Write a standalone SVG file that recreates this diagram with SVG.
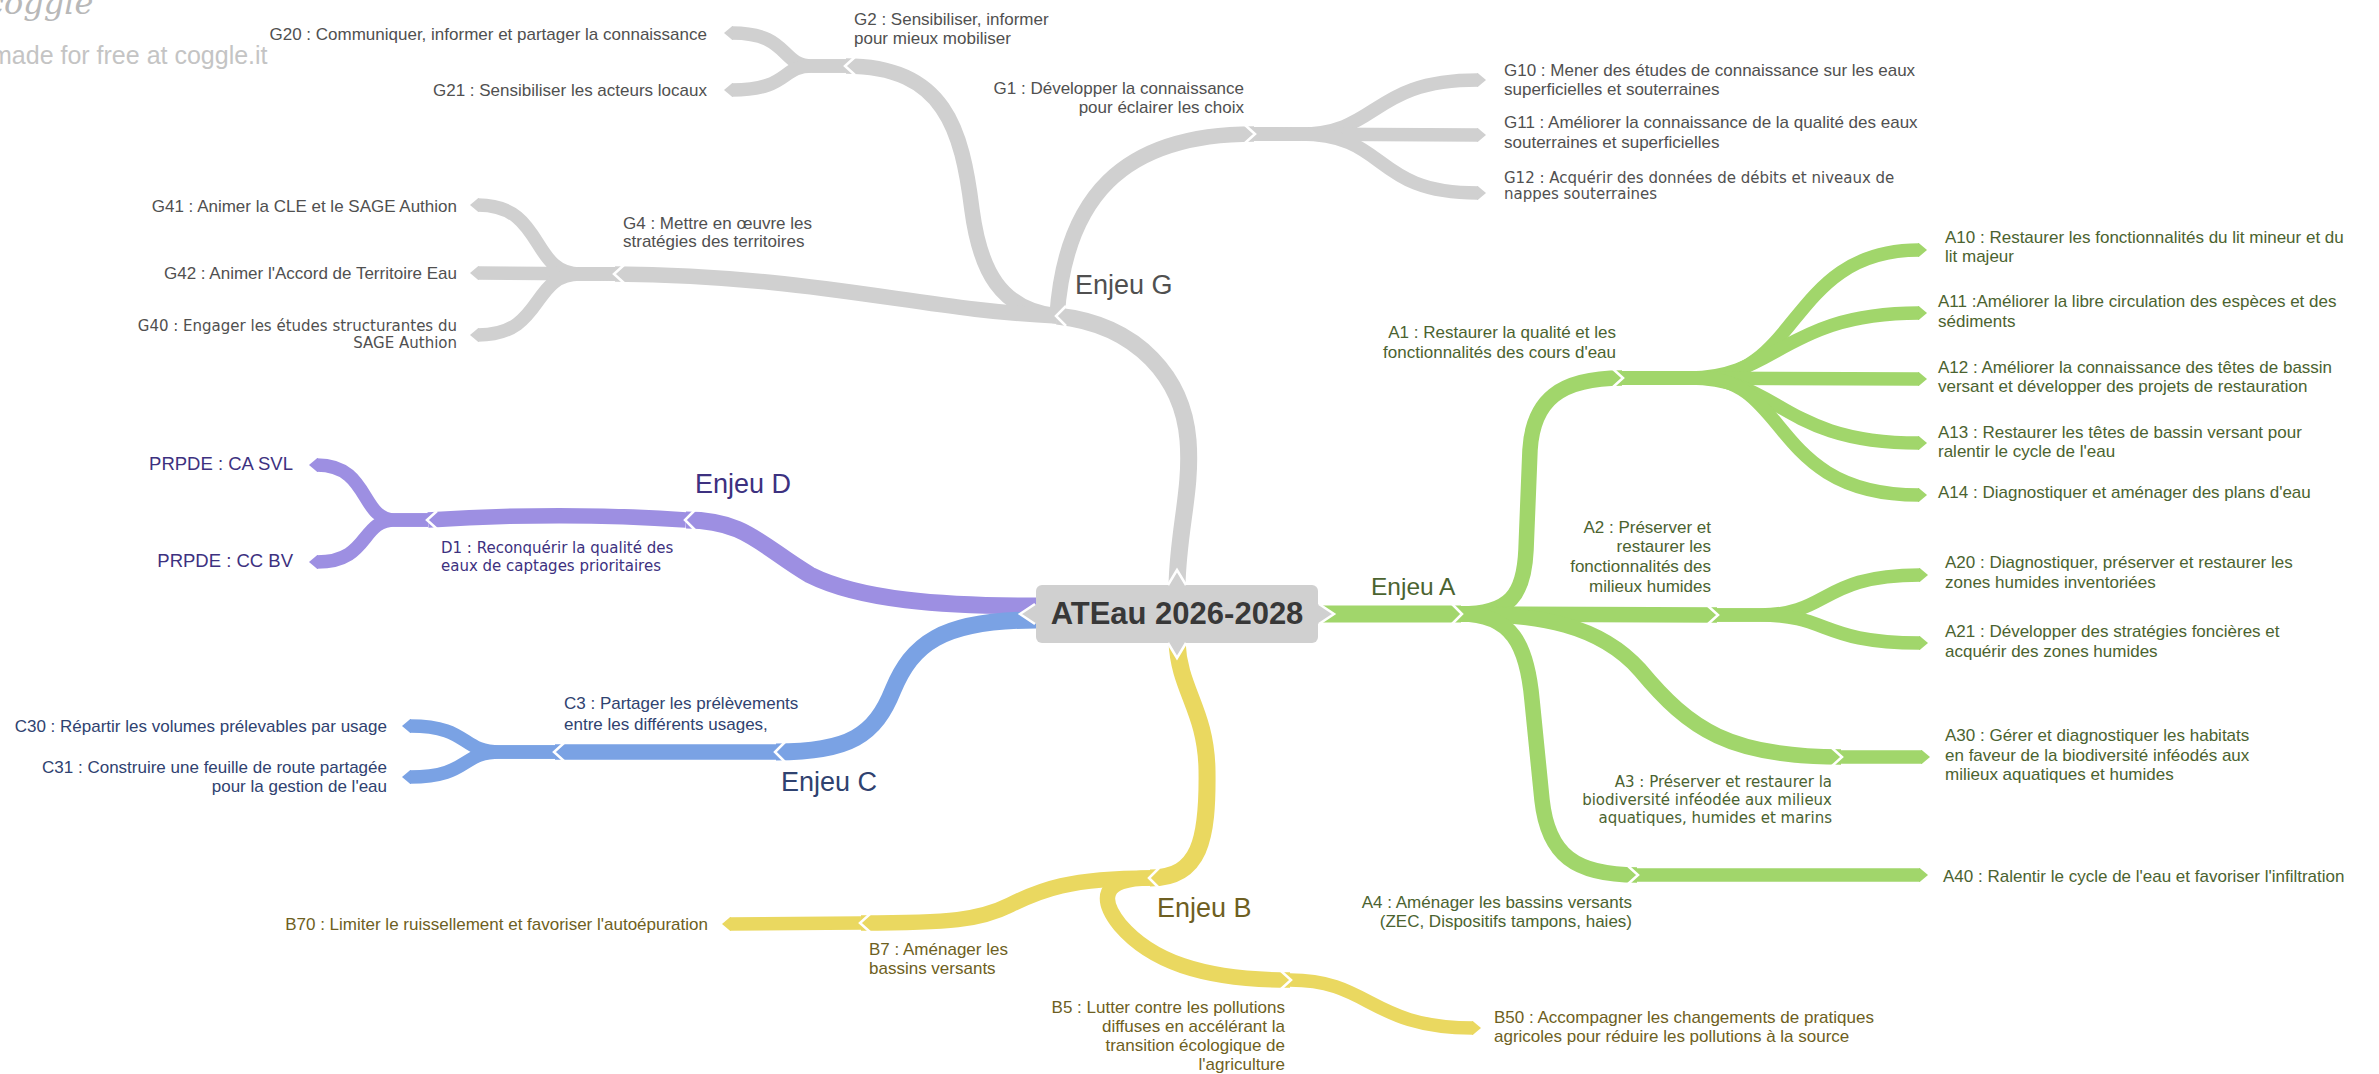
<svg xmlns="http://www.w3.org/2000/svg" width="2379" height="1074" viewBox="0 0 2379 1074">
<style>
.b{fill:none;stroke-linecap:butt;stroke-linejoin:round}
.l1{stroke-width:17}.l2{stroke-width:15.5}.l3{stroke-width:13.5}
.sg{stroke:#d0d0d0}.sa{stroke:#a1d66b}.sb{stroke:#ead860}.sc{stroke:#7aa2e4}.sd{stroke:#9d8fe2}
.chev{fill:none;stroke:#fff;stroke-width:2.5;stroke-linejoin:miter}
.t{font-family:"Liberation Sans",Arial,sans-serif;font-size:17px}
.s{font-family:"DejaVu Sans",sans-serif;font-size:15px}
.e{font-family:"Liberation Sans",Arial,sans-serif;font-size:27px}
.end{text-anchor:end}
.cg{fill:#505050}.ca{fill:#4b6330}.cb{fill:#6e5f22}.cc{fill:#2f4270}.cd{fill:#3d3180}
</style>
<defs>
<marker id="tg" markerUnits="userSpaceOnUse" markerWidth="20" markerHeight="20" orient="auto" overflow="visible"><path d="M-1,-6.75 L0,-6.75 L8,0 L0,6.75 L-1,6.75 Z" fill="#d0d0d0"/></marker>
<marker id="ta" markerUnits="userSpaceOnUse" markerWidth="20" markerHeight="20" orient="auto" overflow="visible"><path d="M-1,-6.75 L0,-6.75 L8,0 L0,6.75 L-1,6.75 Z" fill="#a1d66b"/></marker>
<marker id="tb" markerUnits="userSpaceOnUse" markerWidth="20" markerHeight="20" orient="auto" overflow="visible"><path d="M-1,-6.75 L0,-6.75 L8,0 L0,6.75 L-1,6.75 Z" fill="#ead860"/></marker>
<marker id="tc" markerUnits="userSpaceOnUse" markerWidth="20" markerHeight="20" orient="auto" overflow="visible"><path d="M-1,-6.75 L0,-6.75 L8,0 L0,6.75 L-1,6.75 Z" fill="#7aa2e4"/></marker>
<marker id="td" markerUnits="userSpaceOnUse" markerWidth="20" markerHeight="20" orient="auto" overflow="visible"><path d="M-1,-6.75 L0,-6.75 L8,0 L0,6.75 L-1,6.75 Z" fill="#9d8fe2"/></marker>
</defs>
<rect width="2379" height="1074" fill="#fff"/>
<g id="watermark">
<text x="-14" y="14" font-family="'DejaVu Serif',serif" font-style="italic" font-size="32" fill="#b8b8b8">coggle</text>
<text x="-9" y="64" font-family="'Liberation Sans',Arial,sans-serif" font-size="25" fill="#c4c4c4">made for free at coggle.it</text>
</g>
<g id="connectors">
<!-- Enjeu G (gray) -->
<path class="b l1 sg" d="M1177,586 C1178,530 1192,490 1188,440 C1183,380 1140,325 1057,316"/>
<path class="b l2 sg" d="M1057,316 C1065,200 1120,134 1254,134"/>
<path class="b l2 sg" d="M1057,316 C1000,310 980,270 972,210 C962,130 945,66 846,66"/>
<path class="b l2 sg" d="M1057,316 C920,310 820,276 615,274"/>
<path class="b l3 sg" marker-end="url(#tg)" d="M1254,134 L1300,134 C1380,134 1370,80 1478,80"/>
<path class="b l3 sg" marker-end="url(#tg)" d="M1254,134 L1478,135"/>
<path class="b l3 sg" marker-end="url(#tg)" d="M1254,134 L1300,134 C1390,134 1370,193 1478,193"/>
<path class="b l3 sg" marker-end="url(#tg)" d="M846,66 L812,66 C780,66 790,33 732,33"/>
<path class="b l3 sg" marker-end="url(#tg)" d="M846,66 L812,66 C780,66 790,90 732,90"/>
<path class="b l3 sg" marker-end="url(#tg)" d="M615,274 L580,274 C530,274 545,205 478,205"/>
<path class="b l3 sg" marker-end="url(#tg)" d="M615,274 L478,273"/>
<path class="b l3 sg" marker-end="url(#tg)" d="M615,274 L580,274 C530,274 545,335 478,335"/>
<!-- Enjeu D (purple) -->
<path class="b l1 sd" d="M1036,606 C940,606 860,600 810,575 C760,545 745,520 686,520"/>
<path class="b l2 sd" d="M686,520 C600,514 520,514 428,520"/>
<path class="b l3 sd" marker-end="url(#td)" d="M428,520 L395,520 C360,520 370,465 317,465"/>
<path class="b l3 sd" marker-end="url(#td)" d="M428,520 L395,520 C360,520 370,562 317,562"/>
<!-- Enjeu C (blue) -->
<path class="b l1 sc" d="M1036,620 C940,620 912,645 893,690 C875,735 850,752 776,752"/>
<path class="b l2 sc" d="M776,752 L555,752"/>
<path class="b l3 sc" marker-end="url(#tc)" d="M555,752 L500,752 C460,752 470,726 410,726"/>
<path class="b l3 sc" marker-end="url(#tc)" d="M555,752 L500,752 C460,752 470,777 410,777"/>
<!-- Enjeu B (yellow) -->
<path class="b l1 sb" d="M1177,642 C1179,690 1206,710 1207,770 C1208,840 1200,878 1150,878"/>
<path class="b l2 sb" d="M1150,878 C1070,878 1040,890 1010,905 C980,920 950,923 861,923"/>
<path class="b l2 sb" d="M1150,878 C1100,878 1100,900 1120,925 C1150,960 1200,980 1290,980"/>
<path class="b l3 sb" marker-end="url(#tb)" d="M861,923 L730,924"/>
<path class="b l3 sb" marker-end="url(#tb)" d="M1290,980 C1370,980 1370,1028 1473,1028"/>
<!-- Enjeu A (green) -->
<path class="b l1 sa" d="M1318,614 L1461,614"/>
<path class="b l2 sa" d="M1461,614 C1510,614 1524,595 1526,550 L1530,450 C1533,400 1560,378 1622,378"/>
<path class="b l2 sa" d="M1461,614 L1717,615"/>
<path class="b l2 sa" d="M1461,614 C1540,614 1600,625 1640,670 C1690,730 1730,757 1841,757"/>
<path class="b l2 sa" d="M1461,614 C1512,614 1527,645 1532,700 L1542,800 C1548,855 1575,875 1637,875"/>
<path class="b l3 sa" marker-end="url(#ta)" d="M1622,378 L1700,378 C1800,378 1790,250 1919,250"/>
<path class="b l3 sa" marker-end="url(#ta)" d="M1622,378 L1690,378 C1775,378 1785,313 1919,313"/>
<path class="b l3 sa" marker-end="url(#ta)" d="M1622,378 L1919,379"/>
<path class="b l3 sa" marker-end="url(#ta)" d="M1622,378 L1690,378 C1780,378 1780,443 1919,443"/>
<path class="b l3 sa" marker-end="url(#ta)" d="M1622,378 L1700,378 C1790,378 1770,495 1919,495"/>
<path class="b l3 sa" marker-end="url(#ta)" d="M1717,615 L1760,615 C1830,615 1820,575 1920,575"/>
<path class="b l3 sa" marker-end="url(#ta)" d="M1717,615 L1760,615 C1830,615 1820,643 1920,643"/>
<path class="b l3 sa" marker-end="url(#ta)" d="M1841,757 L1922,757"/>
<path class="b l3 sa" marker-end="url(#ta)" d="M1637,875 L1920,875"/>
<!-- junction chevrons -->
<polyline class="chev" points="1452,604 1462,614 1452,624"/>
<polyline class="chev" points="1613,369 1623,378 1613,387"/>
<polyline class="chev" points="1708,606 1718,615 1708,624"/>
<polyline class="chev" points="1832,748 1842,757 1832,766"/>
<polyline class="chev" points="1628,866 1638,875 1628,884"/>
<polyline class="chev" points="1066,306 1056,316 1066,326"/>
<polyline class="chev" points="1245,125 1255,134 1245,143"/>
<polyline class="chev" points="855,57 845,66 855,75"/>
<polyline class="chev" points="624,265 614,274 624,283"/>
<polyline class="chev" points="695,510 685,520 695,530"/>
<polyline class="chev" points="437,511 427,520 437,529"/>
<polyline class="chev" points="785,742 775,752 785,762"/>
<polyline class="chev" points="564,743 554,752 564,761"/>
<polyline class="chev" points="1159,868 1149,878 1159,888"/>
<polyline class="chev" points="870,914 860,923 870,932"/>
<polyline class="chev" points="1281,971 1291,980 1281,989"/>
</g>
<g id="root">
<rect x="1036" y="585" width="282" height="58" rx="6" fill="#d0d0d0"/>
<polygon points="1318,604 1333,614 1318,624" fill="#d0d0d0"/>
<polygon points="1036,604 1021,614 1036,624" fill="#d0d0d0"/>
<polygon points="1168,586 1177,571 1186,586" fill="#d0d0d0"/>
<polygon points="1168,642 1177,657 1186,642" fill="#d0d0d0"/>
<polyline class="chev" points="1319,604 1334,614 1319,624"/>
<polyline class="chev" points="1035,604 1020,614 1035,624"/>
<polyline class="chev" points="1168,585 1177,570 1186,585"/>
<polyline class="chev" points="1168,643 1177,658 1186,643"/>
<text x="1177" y="624" text-anchor="middle" font-family="'Liberation Sans',Arial,sans-serif" font-size="31" font-weight="bold" fill="#383838">ATEau 2026-2028</text>
</g>
<g id="enjeuG"><text class="e cg" x="1075" y="294">Enjeu G</text></g>
<g id="G1"><text class="t cg end" x="1244" y="94">G1 : Développer la connaissance</text><text class="t cg end" x="1244" y="113">pour éclairer les choix</text></g>
<g id="G10"><text class="t cg" x="1504" y="76">G10 : Mener des études de connaissance sur les eaux</text><text class="t cg" x="1504" y="95">superficielles et souterraines</text></g>
<g id="G11"><text class="t cg" x="1504" y="128">G11 : Améliorer la connaissance de la qualité des eaux</text><text class="t cg" x="1504" y="148">souterraines et superficielles</text></g>
<g id="G12"><text class="s cg" x="1504" y="183">G12 : Acquérir des données de débits et niveaux de</text><text class="s cg" x="1504" y="199">nappes souterraines</text></g>
<g id="G2"><text class="t cg" x="854" y="25">G2 : Sensibiliser, informer</text><text class="t cg" x="854" y="44">pour mieux mobiliser</text></g>
<g id="G20"><text class="t cg end" x="707" y="40">G20 : Communiquer, informer et partager la connaissance</text></g>
<g id="G21"><text class="t cg end" x="707" y="96">G21 : Sensibiliser les acteurs locaux</text></g>
<g id="G4"><text class="t cg" x="623" y="229">G4 : Mettre en œuvre les</text><text class="t cg" x="623" y="247">stratégies des territoires</text></g>
<g id="G41"><text class="t cg end" x="457" y="212">G41 : Animer la CLE et le SAGE Authion</text></g>
<g id="G42"><text class="t cg end" x="457" y="279">G42 : Animer l'Accord de Territoire Eau</text></g>
<g id="G40"><text class="s cg end" x="457" y="331">G40 : Engager les études structurantes du</text><text class="s cg end" x="457" y="348">SAGE Authion</text></g>
<g id="enjeuD"><text class="e cd" x="695" y="493">Enjeu D</text></g>
<g id="D1"><text class="s cd" x="441" y="553">D1 : Reconquérir la qualité des</text><text class="s cd" x="441" y="571">eaux de captages prioritaires</text></g>
<g id="PRPDE1"><text class="cd end" x="293" y="470" font-family="'Liberation Sans',Arial,sans-serif" font-size="18.5">PRPDE : CA SVL</text></g>
<g id="PRPDE2"><text class="cd end" x="293" y="567" font-family="'Liberation Sans',Arial,sans-serif" font-size="18.5">PRPDE : CC BV</text></g>
<g id="enjeuC"><text class="e cc" x="781" y="791">Enjeu C</text></g>
<g id="C3"><text class="t cc" x="564" y="709">C3 : Partager les prélèvements</text><text class="t cc" x="564" y="730">entre les différents usages,</text></g>
<g id="C30"><text class="t cc end" x="387" y="732">C30 : Répartir les volumes prélevables par usage</text></g>
<g id="C31"><text class="t cc end" x="387" y="773">C31 : Construire une feuille de route partagée</text><text class="t cc end" x="387" y="792">pour la gestion de l'eau</text></g>
<g id="enjeuB"><text class="e cb" x="1157" y="917">Enjeu B</text></g>
<g id="B7"><text class="t cb" x="869" y="955">B7 : Aménager les</text><text class="t cb" x="869" y="974">bassins versants</text></g>
<g id="B70"><text class="t cb end" x="708" y="930">B70 : Limiter le ruissellement et favoriser l'autoépuration</text></g>
<g id="B5"><text class="t cb end" x="1285" y="1013">B5 : Lutter contre les pollutions</text><text class="t cb end" x="1285" y="1032">diffuses en accélérant la</text><text class="t cb end" x="1285" y="1051">transition écologique de</text><text class="t cb end" x="1285" y="1070">l'agriculture</text></g>
<g id="B50"><text class="t cb" x="1494" y="1023">B50 : Accompagner les changements de pratiques</text><text class="t cb" x="1494" y="1042">agricoles pour réduire les pollutions à la source</text></g>
<g id="enjeuA"><text class="ca" x="1371" y="595" font-family="'Liberation Sans',Arial,sans-serif" font-size="24.5">Enjeu A</text></g>
<g id="A1"><text class="t ca end" x="1616" y="338">A1 : Restaurer la qualité et les</text><text class="t ca end" x="1616" y="358">fonctionnalités des cours d'eau</text></g>
<g id="A10"><text class="t ca" x="1945" y="243">A10 : Restaurer les fonctionnalités du lit mineur et du</text><text class="t ca" x="1945" y="262">lit majeur</text></g>
<g id="A11"><text class="t ca" x="1938" y="307">A11 :Améliorer la libre circulation des espèces et des</text><text class="t ca" x="1938" y="327">sédiments</text></g>
<g id="A12"><text class="t ca" x="1938" y="373">A12 : Améliorer la connaissance des têtes de bassin</text><text class="t ca" x="1938" y="392">versant et développer des projets de restauration</text></g>
<g id="A13"><text class="t ca" x="1938" y="438">A13 : Restaurer les têtes de bassin versant pour</text><text class="t ca" x="1938" y="457">ralentir le cycle de l'eau</text></g>
<g id="A14"><text class="t ca" x="1938" y="498">A14 : Diagnostiquer et aménager des plans d'eau</text></g>
<g id="A2"><text class="t ca end" x="1711" y="533">A2 : Préserver et</text><text class="t ca end" x="1711" y="552">restaurer les</text><text class="t ca end" x="1711" y="572">fonctionnalités des</text><text class="t ca end" x="1711" y="592">milieux humides</text></g>
<g id="A20"><text class="t ca" x="1945" y="568">A20 : Diagnostiquer, préserver et restaurer les</text><text class="t ca" x="1945" y="588">zones humides inventoriées</text></g>
<g id="A21"><text class="t ca" x="1945" y="637">A21 : Développer des stratégies foncières et</text><text class="t ca" x="1945" y="657">acquérir des zones humides</text></g>
<g id="A3"><text class="s ca end" x="1832" y="787">A3 : Préserver et restaurer la</text><text class="s ca end" x="1832" y="805">biodiversité inféodée aux milieux</text><text class="s ca end" x="1832" y="823">aquatiques, humides et marins</text></g>
<g id="A30"><text class="t ca" x="1945" y="741">A30 : Gérer et diagnostiquer les habitats</text><text class="t ca" x="1945" y="761">en faveur de la biodiversité inféodés aux</text><text class="t ca" x="1945" y="780">milieux aquatiques et humides</text></g>
<g id="A4"><text class="t ca end" x="1632" y="908">A4 : Aménager les bassins versants</text><text class="t ca end" x="1632" y="927">(ZEC, Dispositifs tampons, haies)</text></g>
<g id="A40"><text class="t ca" x="1943" y="882">A40 : Ralentir le cycle de l'eau et favoriser l'infiltration</text></g>
</svg>
